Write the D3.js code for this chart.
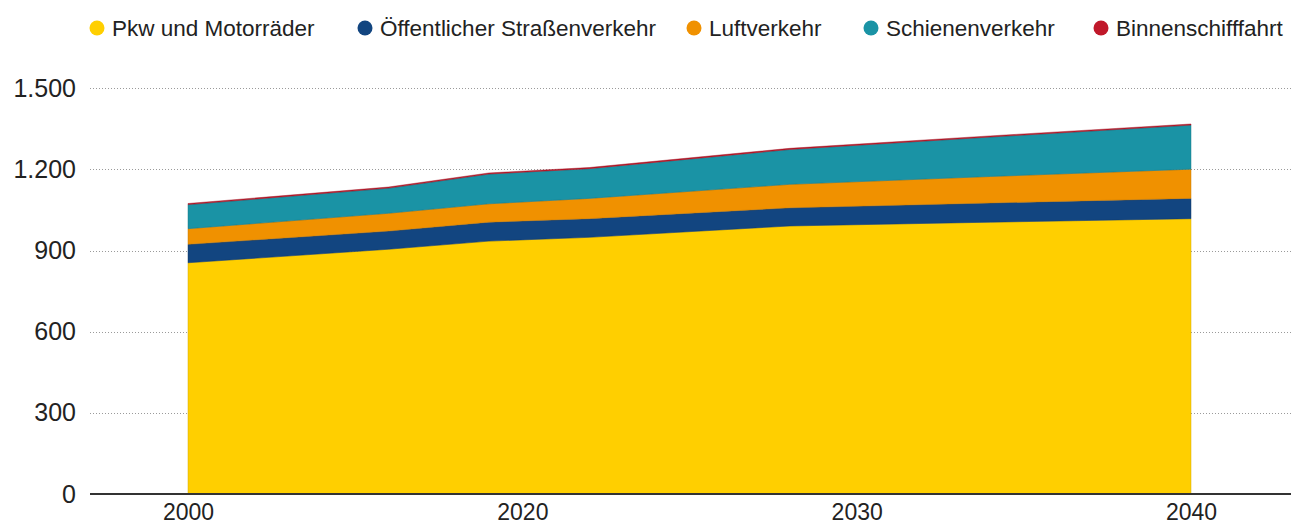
<!DOCTYPE html>
<html>
<head>
<meta charset="utf-8">
<script src="https://cdn.jsdelivr.net/npm/d3@7"></script>
<style>
  html, body { margin: 0; padding: 0; background: #fff; }
  svg { display: block; font-family: "Liberation Sans", Arial, sans-serif; }
</style>
</head>
<body>
<svg id="chart" width="1291" height="526"></svg>
<script>
// ---- data ----
const categories = ["2000","2011","2012","2013","2014","2015","2016","2017","2018","2019",
  "2020","2021","2022","2023","2024","2025","2026","2027","2028","2029",
  "2030","2031","2032","2033","2034","2035","2036","2037","2038","2039","2040"];
const dataYears = ["2000","2016","2019","2022","2028","2034","2040"];
const pkw        = [855, 905, 935, 949, 991, 1005, 1018];
const oeffentlich = [68, 67, 70, 69, 67, 71, 75];
const luft       = [58, 66, 68, 75, 87, 98, 108];
const schiene    = [89, 93, 110, 110, 129, 146, 163];
const binnen     = [4, 4, 4, 4, 4, 4, 4];
const seriesNames = ["Pkw und Motorräder","Öffentlicher Straßenverkehr","Luftverkehr","Schienenverkehr","Binnenschifffahrt"];
const seriesColors = ["#FFCF00","#124580","#F09100","#1A93A5","#C0182A"];
const yTicks = [0, 300, 600, 900, 1200, 1500];
const xTickLabels = ["2000","2020","2030","2040"];

// ---- build table ----
const seriesValues = [pkw, oeffentlich, luft, schiene, binnen];
const keys = seriesNames;
const table = dataYears.map((yr, i) => {
  const row = { year: yr };
  keys.forEach((k, j) => row[k] = seriesValues[j][i]);
  return row;
});

const svg = d3.select("#chart");
const plotLeft = 90, plotRight = 1291;
const x = d3.scalePoint().domain(categories).range([188, 1191]);
const y = d3.scaleLinear().domain([0, 1500]).range([494, 88.3]);

// grid lines
const grid = svg.append("g");
yTicks.filter(t => t > 0).forEach(t => {
  grid.append("line")
    .attr("x1", plotLeft).attr("x2", plotRight)
    .attr("y1", Math.round(y(t)) + 0.5).attr("y2", Math.round(y(t)) + 0.5)
    .attr("stroke", "#9a9a9a").attr("stroke-width", 1)
    .attr("stroke-dasharray", "1,2");
});

// y labels
const yAxis = d3.axisLeft(y).tickValues(yTicks)
  .tickFormat(d => d3.format(",")(d).replace(/,/g, "."))
  .tickSize(0).tickPadding(0);
const yg = svg.append("g").attr("transform", "translate(76,0)").call(yAxis);
yg.select(".domain").remove();
yg.selectAll("text").attr("font-size", 25).attr("fill", "#222")
  .attr("font-family", "'Liberation Sans', Arial, sans-serif");

// stacked areas
const stack = d3.stack().keys(keys);
const stacked = stack(table);
const area = d3.area()
  .x(d => x(d.data.year))
  .y0(d => y(d[0]))
  .y1(d => y(d[1]));
svg.append("g").selectAll("path").data(stacked).join("path")
  .attr("d", area)
  .attr("fill", (d, i) => seriesColors[i])
  .attr("stroke", (d, i) => d3.color(seriesColors[i]).darker(0.6))
  .attr("stroke-width", 0.6)
  .attr("stroke-opacity", 0.8);

// x axis baseline
svg.append("line")
  .attr("x1", plotLeft).attr("x2", plotRight)
  .attr("y1", 494).attr("y2", 494)
  .attr("stroke", "#333").attr("stroke-width", 2.2);

const xAxis = d3.axisBottom(x).tickValues(categories.filter(c => xTickLabels.includes(c)))
  .tickSize(0).tickPadding(0);
const xg = svg.append("g").attr("transform", "translate(0,0)").call(xAxis);
xg.select(".domain").remove();
xg.selectAll("text").attr("font-size", 23).attr("fill", "#222")
  .attr("y", 520).attr("dy", null)
  .attr("font-family", "'Liberation Sans', Arial, sans-serif");

// legend
const legendDotX = [97, 365, 694, 871, 1101];
const legend = svg.append("g");
seriesNames.forEach((name, i) => {
  legend.append("circle").attr("cx", legendDotX[i]).attr("cy", 28).attr("r", 7.5)
    .attr("fill", seriesColors[i]);
  legend.append("text").attr("x", legendDotX[i] + 15).attr("y", 36)
    .attr("font-size", 22.5).attr("fill", "#222").text(name);
});
</script>
</body>
</html>
